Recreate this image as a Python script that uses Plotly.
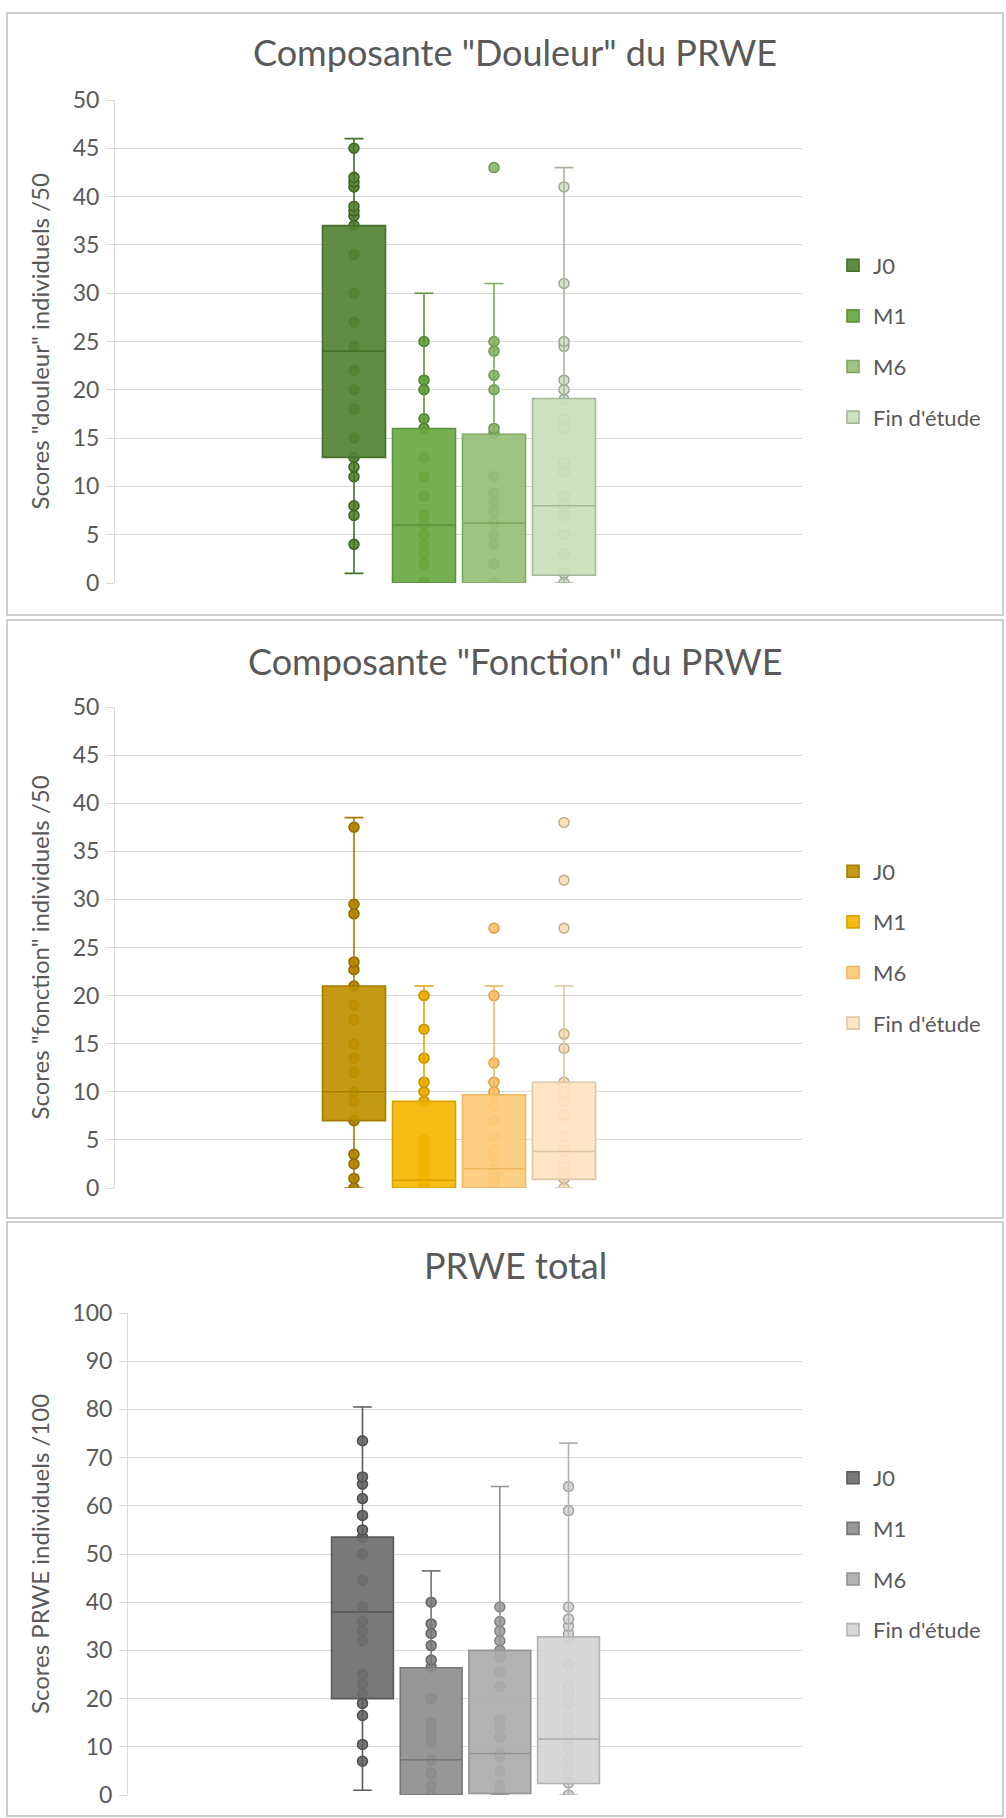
import plotly.graph_objects as go

W, H = 1006, 1818
FONT = "Lato"
TXT = "#595959"

series = ["J0", "M1", "M6", "Fin d'étude"]
category = "PRWE"

# ---------------- Panel 1 : Douleur (/50) ----------------
douleur_J0 = [45, 42, 41.5, 41, 39, 38.5, 38, 37, 34, 30, 27, 24.5, 22, 20, 18, 15, 13, 12, 11, 8, 7, 4]
douleur_M1 = [25, 21, 20, 17, 16, 13, 11, 9, 7, 6, 5, 4, 3, 2, 0, 0, 0]
douleur_M6 = [43, 25, 24, 21.5, 20, 16, 15.5, 11, 9.3, 8.4, 7.4, 6.2, 5, 4, 2, 0, 0]
douleur_FIN = [41, 31, 25, 24.5, 21, 20, 19, 17, 16, 12.5, 11.5, 9, 8, 7, 5, 3, 1, 0]
douleur_q1 = [13, 0, 0, 0.8]
douleur_median = [24, 6, 6.2, 8]
douleur_q3 = [37, 16, 15.4, 19.1]
douleur_lower = [1, 0, 0, 0]
douleur_upper = [46, 30, 31, 43]

# ---------------- Panel 2 : Fonction (/50) ----------------
fonction_J0 = [37.5, 29.5, 28.5, 23.5, 22.7, 21, 19, 17.5, 15, 13.5, 12, 10, 9, 7, 3.5, 2.5, 1, 0]
fonction_M1 = [20, 16.5, 13.5, 11, 10, 9, 5, 4, 3, 2, 1, 1, 0.5, 0, 0, 0]
fonction_M6 = [27, 20, 13, 11, 10, 9.7, 8.5, 7, 5.3, 4, 3.3, 2, 1.5, 1, 0.5, 0]
fonction_FIN = [38, 32, 27, 16, 14.5, 11, 10, 9, 7.6, 7.5, 5.3, 4, 3.8, 2.2, 1.5, 1, 0]
fonction_q1 = [7, 0, 0, 0.9]
fonction_median = [10, 0.8, 2, 3.8]
fonction_q3 = [21, 9, 9.7, 11]
fonction_lower = [0, 0, 0, 0]
fonction_upper = [38.5, 21, 21, 21]

# ---------------- Panel 3 : Total (/100) ----------------
total_J0 = [73.5, 66, 64.5, 61.5, 58, 55, 53.5, 50, 44.5, 39, 36, 34, 32, 25, 23, 21, 19, 16.5, 10.5, 7]
total_M1 = [40, 35.5, 33.5, 31, 28, 26.5, 20, 15, 14, 13, 12, 11, 7.3, 4.5, 2, 0, 0]
total_M6 = [39, 36, 34, 32, 30, 28.5, 25.5, 22.5, 15.5, 14, 12, 8.6, 8, 5, 2, 0.5, 0]
total_FIN = [64, 59, 39, 36.5, 35, 33.5, 32.5, 27, 22.5, 21, 19, 16, 14, 12, 10, 7.5, 5, 2.5, 0]
total_q1 = [20, 0, 0.3, 2.4]
total_median = [38, 7.3, 8.6, 11.6]
total_q3 = [53.5, 26.4, 30, 32.8]
total_lower = [1, 0, 0, 0]
total_upper = [80.5, 46.5, 64, 73]

titles = ['Composante "Douleur" du PRWE', 'Composante "Fonction" du PRWE', "PRWE total"]
ytitles = ['Scores "douleur" individuels /50', 'Scores "fonction" individuels /50',
           "Scores PRWE individuels /100"]


def px_x(p):
    return p / W


def px_y(p):
    return 1 - p / H


panels = [
    dict(points=[douleur_J0, douleur_M1, douleur_M6, douleur_FIN],
         q1=douleur_q1, med=douleur_median, q3=douleur_q3, lo=douleur_lower, hi=douleur_upper,
         fills=["#548235", "#6AA842", "#97BE78", "#C9DFBA"],
         lines=["#44702A", "#5A9438", "#7DA85E", "#A8B6A0"],
         pfill=["#5E8F3E", "#6EA647", "#93BD76", "#D3E5C7"],
         pline=["#3A6022", "#4A802C", "#6A964E", "#98A890"],
         ymax=50, dtick=5, box=(115, 803, 100, 583), title_y=52, frame=(7, 1003, 13, 615)),
    dict(points=[fonction_J0, fonction_M1, fonction_M6, fonction_FIN],
         q1=fonction_q1, med=fonction_median, q3=fonction_q3, lo=fonction_lower, hi=fonction_upper,
         fills=["#BF9000", "#F3B600", "#FDCB78", "#FDE3C0"],
         lines=["#A47C00", "#DBA400", "#EDB85E", "#DCC7A4"],
         pfill=["#B88B00", "#F0B400", "#FBC771", "#FBE0BC"],
         pline=["#8A6800", "#C29000", "#D8A04A", "#C4AE88"],
         ymax=50, dtick=5, box=(115, 803, 707, 1188), title_y=661, frame=(7, 1003, 620, 1218)),
    dict(points=[total_J0, total_M1, total_M6, total_FIN],
         q1=total_q1, med=total_median, q3=total_q3, lo=total_lower, hi=total_upper,
         fills=["#6E6E6E", "#8E8E8E", "#ABABAB", "#D4D4D4"],
         lines=["#5A5A5A", "#777777", "#939393", "#B3B3B3"],
         pfill=["#747474", "#8A8A8A", "#A6A6A6", "#D8D8D8"],
         pline=["#4C4C4C", "#646464", "#808080", "#A0A0A0"],
         ymax=100, dtick=10, box=(128, 803, 1313, 1795), title_y=1265, frame=(7, 1003, 1222, 1816)),
]


def rgba(hexcol, a):
    h = hexcol.lstrip("#")
    r, g, b = int(h[0:2], 16), int(h[2:4], 16), int(h[4:6], 16)
    return f"rgba({r},{g},{b},{a})"


fig = go.Figure()
layout = dict(
    width=W, height=H,
    margin=dict(l=0, r=0, t=0, b=0),
    paper_bgcolor="white", plot_bgcolor="rgba(0,0,0,0)",
    boxmode="group", boxgap=0.593, boxgroupgap=0.1,
    font=dict(family=FONT, color=TXT),
    showlegend=True,
    annotations=[], shapes=[],
)

for i, p in enumerate(panels):
    sfx = "" if i == 0 else str(i + 1)
    xa, ya = "x" + sfx, "y" + sfx
    leg = "legend" + sfx
    grp = f"g{i}"
    # individual points (drawn first, under the semi-opaque boxes)
    for k, name in enumerate(series):
        vals = p["points"][k]
        fig.add_trace(go.Box(
            x=[category] * len(vals), y=vals, name=name,
            boxpoints="all", jitter=0, pointpos=0,
            fillcolor="rgba(0,0,0,0)", line=dict(width=0, color="rgba(0,0,0,0)"),
            whiskerwidth=0,
            marker=dict(size=10, color=p["pfill"][k], line=dict(color=p["pline"][k], width=1.5)),
            offsetgroup=name, alignmentgroup=grp, showlegend=False,
            xaxis=xa, yaxis=ya, hoverinfo="y", legend=leg,
        ))
    # boxes
    for k, name in enumerate(series):
        fig.add_trace(go.Box(
            x=[category], q1=[p["q1"][k]], median=[p["med"][k]], q3=[p["q3"][k]],
            lowerfence=[p["lo"][k]], upperfence=[p["hi"][k]],
            name=name, boxpoints=False,
            fillcolor=rgba(p["fills"][k], 0.92), line=dict(color=p["lines"][k], width=1.6),
            whiskerwidth=0.3,
            offsetgroup=name, alignmentgroup=grp, legendgroup=f"{i}_{name}",
            xaxis=xa, yaxis=ya, legend=leg,
        ))

    l, r, t, b = p["box"]
    layout["xaxis" + sfx] = dict(
        domain=[px_x(l), px_x(r)], anchor=ya, type="category", range=[-0.5, 0.5],
        showticklabels=False, showgrid=False, zeroline=False, showline=False, ticks="",
        fixedrange=True,
    )
    layout["yaxis" + sfx] = dict(
        domain=[px_y(b), px_y(t)], anchor=xa, range=[0, p["ymax"]], dtick=p["dtick"], tick0=0,
        showgrid=True, gridcolor="#D9D9D9", gridwidth=1, zeroline=False,
        showline=True, linecolor="#D9D9D9", linewidth=1,
        ticks="outside", ticklen=8, tickcolor="#D9D9D9", ticklabelstandoff=2,
        tickfont=dict(family=FONT, size=23, color=TXT), automargin=False, fixedrange=True,
    )
    layout[leg] = dict(
        x=px_x(833), y=px_y((t + b) / 2), xanchor="left", yanchor="middle",
        font=dict(family=FONT, size=22, color=TXT), tracegroupgap=19,
        bgcolor="rgba(0,0,0,0)", traceorder="grouped",
    )
    layout["annotations"].append(dict(
        text=titles[i], x=px_x(515), y=px_y(p["title_y"]), xref="paper", yref="paper",
        xanchor="center", yanchor="middle", showarrow=False,
        font=dict(family=FONT, size=36, color=TXT),
    ))
    layout["annotations"].append(dict(
        text=ytitles[i], x=px_x(39), y=px_y((t + b) / 2), xref="paper", yref="paper",
        xanchor="center", yanchor="middle", showarrow=False, textangle=-90,
        font=dict(family=FONT, size=24, color=TXT),
    ))
    fl, fr, ft, fb = p["frame"]
    layout["shapes"].append(dict(
        type="rect", xref="paper", yref="paper",
        x0=px_x(fl), x1=px_x(fr), y0=px_y(fb), y1=px_y(ft),
        line=dict(color="#BFBFBF", width=1.5), fillcolor="rgba(0,0,0,0)", layer="below",
    ))

fig.update_layout(**layout)
fig.write_html(
    "out.html",
    config={"displayModeBar": False},
    post_script="document.body.style.margin='0';document.body.style.padding='0';",
)
